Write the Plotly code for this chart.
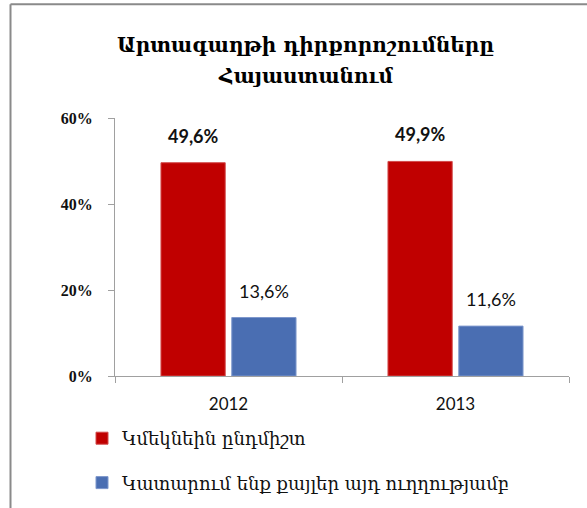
import plotly.graph_objects as go

years = ["2012", "2013"]
series_names = ["Կմեկնեին ընդմիշտ", "Կատարում ենք քայլեր այդ ուղղությամբ"]
leave_forever = [49.6, 49.9]
taking_steps = [13.6, 11.6]
series_values = [leave_forever, taking_steps]
colors = ["#C00000", "#4A6EB2"]
edge_colors = ["#D24A4A", "#7D97CC"]
label_weights = ["bold", "normal"]
title_lines = ["Արտագաղթի դիրքորոշումները", "Հայաստանում"]

W, H = 587, 508
L, R, T, B = 115, 18, 118, 132
pw, ph = W - L - R, H - T - B

fig = go.Figure()
for i, (name, vals) in enumerate(zip(series_names, series_values)):
    fig.add_trace(go.Bar(
        x=years, y=vals, name=name,
        marker=dict(color=colors[i], line=dict(color=edge_colors[i], width=1)),
        legendgroup=f"g{i}", hoverinfo="skip",
    ))

# data labels
nser = len(series_values)
bargap, bgg = 0.376, 0.093
cat_w = pw / len(years)
slot = cat_w * (1 - bargap) / nser
for i, vals in enumerate(series_values):
    off = (i - (nser - 1) / 2) * slot
    for j, v in enumerate(vals):
        fig.add_annotation(
            x=j, y=v, xref="x", yref="y",
            text=f"{v:.1f}%".replace(".", ","),
            showarrow=False, xshift=off, yshift=27, yanchor="middle",
            font=dict(family="Lato", size=18, color="#111111", weight=label_weights[i]),
        )

def px_to_paper_x(px):
    return (px - L) / pw

def px_to_paper_y(py):
    return (H - B - py) / ph

# title lines
title_y_px = [45, 76]
for line, ypx in zip(title_lines, title_y_px):
    fig.add_annotation(
        x=px_to_paper_x(305), y=px_to_paper_y(ypx), xref="paper", yref="paper",
        text=line, showarrow=False, xanchor="center", yanchor="middle",
        font=dict(family="DejaVu Serif", size=20, color="black", weight="bold"),
    )

# outer frame (top and left visible)
frame_color = "#8A8A8A"
fig.add_shape(type="line", xref="paper", yref="paper",
              x0=px_to_paper_x(10.5), x1=px_to_paper_x(600),
              y0=px_to_paper_y(4.3), y1=px_to_paper_y(4.3),
              line=dict(color=frame_color, width=2))
fig.add_shape(type="line", xref="paper", yref="paper",
              x0=px_to_paper_x(10.5), x1=px_to_paper_x(10.5),
              y0=px_to_paper_y(4.3), y1=px_to_paper_y(520),
              line=dict(color=frame_color, width=2))

fig.update_layout(
    width=W, height=H,
    margin=dict(l=L, r=R, t=T, b=B, autoexpand=False),
    paper_bgcolor="white", plot_bgcolor="white",
    barmode="group", bargap=bargap, bargroupgap=bgg,
    showlegend=True,
    legend=dict(
        orientation="v", x=px_to_paper_x(82), xanchor="left",
        y=px_to_paper_y(420), yanchor="top",
        traceorder="grouped", tracegroupgap=18,
        font=dict(family="DejaVu Serif", size=18, color="#111111"),
        bgcolor="rgba(0,0,0,0)",
    ),
    xaxis=dict(
        type="category", showline=True, linecolor="#A0A0A0", linewidth=1,
        ticks="outside", tickson="boundaries", ticklen=6, tickcolor="#A0A0A0",
        tickfont=dict(family="Lato", size=17, color="#111111"),
        ticklabelstandoff=13,
        showgrid=False, zeroline=False, range=[-0.5, 1.5],
    ),
    yaxis=dict(
        range=[0, 60], dtick=20, ticksuffix="%",
        showline=True, linecolor="#A0A0A0", linewidth=1,
        ticks="outside", ticklen=6, tickcolor="#A0A0A0",
        tickfont=dict(family="Liberation Serif", size=16, color="#111111", weight="bold"),
        ticklabelstandoff=12,
        showgrid=False, zeroline=False,
    ),
)

fig.write_html("out.html", config={"displayModeBar": False},
               post_script="document.body.style.margin='0';")
